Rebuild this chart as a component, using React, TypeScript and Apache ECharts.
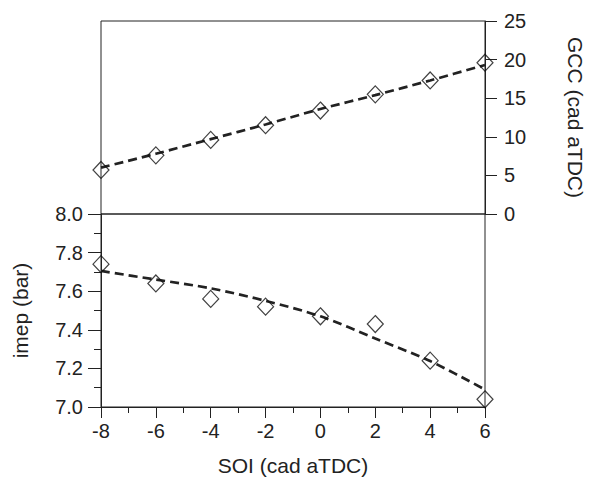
import React, { useEffect, useRef } from "react";
import * as echarts from "echarts";

const soi = [-8, -6, -4, -2, 0, 2, 4, 6];
const gcc = [5.7, 7.6, 9.6, 11.5, 13.4, 15.5, 17.3, 19.6];
const gccFit = [6.0, 7.8, 9.7, 11.6, 13.6, 15.4, 17.3, 19.3];
const imep = [7.74, 7.64, 7.56, 7.52, 7.47, 7.43, 7.24, 7.04];
const imepFit = [7.705, 7.66, 7.615, 7.55, 7.47, 7.355, 7.238, 7.09];

const INK = "#222";
const FONT = "'Liberation Sans', Arial, sans-serif";

export default function App() {
  const ref = useRef<HTMLDivElement>(null);
  useEffect(() => {
    if (!ref.current) return;
    const chart = echarts.init(ref.current, undefined, { renderer: "svg" });
    const pairs = (ys: number[]) => soi.map((x, i) => [x, ys[i]]);
    const labelStyle = { color: INK, fontSize: 20, fontFamily: FONT };
    const nameStyle = { color: INK, fontSize: 21, fontFamily: FONT };
    chart.setOption({
      animation: false,
      backgroundColor: "#fff",
      grid: [
        { left: 101, top: 21, width: 384, height: 193, show: true, borderColor: INK, borderWidth: 1, outerBoundsMode: "none", containLabel: false },
        { left: 101, top: 214, width: 384, height: 193, show: true, borderColor: INK, borderWidth: 1, outerBoundsMode: "none", containLabel: false },
      ],
      xAxis: [
        { type: "value", gridIndex: 0, min: -8, max: 6, interval: 2, show: false },
        {
          type: "value", gridIndex: 1, min: -8, max: 6, interval: 2,
          axisLine: { show: true, onZero: false, lineStyle: { color: INK, width: 1 } },
          axisTick: { show: true, inside: false, length: 11, lineStyle: { color: INK } },
          minorTick: { show: true, splitNumber: 2, length: 6, lineStyle: { color: INK } },
          splitLine: { show: false },
          axisLabel: { ...labelStyle, margin: 14 },
          name: "SOI (cad aTDC)", nameLocation: "middle", nameGap: 48, nameTextStyle: nameStyle,
        },
      ],
      yAxis: [
        {
          type: "value", gridIndex: 0, position: "right", min: 0, max: 25, interval: 5,
          axisLine: { show: true, onZero: false, lineStyle: { color: INK, width: 1 } },
          axisTick: { show: true, inside: false, length: 12, lineStyle: { color: INK } },
          splitLine: { show: false },
          axisLabel: { ...labelStyle, margin: 19 },
          name: "GCC (cad aTDC)", nameLocation: "middle", nameRotate: -90, nameGap: 80, nameTextStyle: nameStyle,
        },
        {
          type: "value", gridIndex: 1, min: 7, max: 8, interval: 0.2,
          axisLine: { show: true, onZero: false, lineStyle: { color: INK, width: 1 } },
          axisTick: { show: true, inside: false, length: 13, lineStyle: { color: INK } },
          minorTick: { show: true, splitNumber: 2, length: 7, lineStyle: { color: INK } },
          splitLine: { show: false },
          axisLabel: { ...labelStyle, margin: 18, formatter: (v: number) => v.toFixed(1) },
          name: "imep (bar)", nameLocation: "middle", nameRotate: 90, nameGap: 70, nameTextStyle: nameStyle,
        },
      ],
      series: [
        {
          type: "line", xAxisIndex: 0, yAxisIndex: 0, data: pairs(gccFit), showSymbol: false, smooth: 0.3,
          lineStyle: { color: INK, width: 2.7, type: [9, 5] }, z: 2,
        },
        {
          type: "scatter", xAxisIndex: 0, yAxisIndex: 0, data: pairs(gcc), symbol: "diamond", symbolSize: [16, 17],
          itemStyle: { color: "none", borderColor: "#111", borderWidth: 1.2 }, z: 3,
        },
        {
          type: "line", xAxisIndex: 1, yAxisIndex: 1, data: pairs(imepFit), showSymbol: false, smooth: 0.3,
          lineStyle: { color: INK, width: 2.7, type: [9, 5] }, z: 2,
        },
        {
          type: "scatter", xAxisIndex: 1, yAxisIndex: 1, data: pairs(imep), symbol: "diamond", symbolSize: [16, 17],
          itemStyle: { color: "none", borderColor: "#111", borderWidth: 1.2 }, z: 3,
        },
      ],
    });
    return () => chart.dispose();
  }, []);
  return (
    <div
      ref={ref}
      style={{ position: "fixed", left: 0, top: 0, width: 589, height: 481, background: "#fff" }}
    />
  );
}
